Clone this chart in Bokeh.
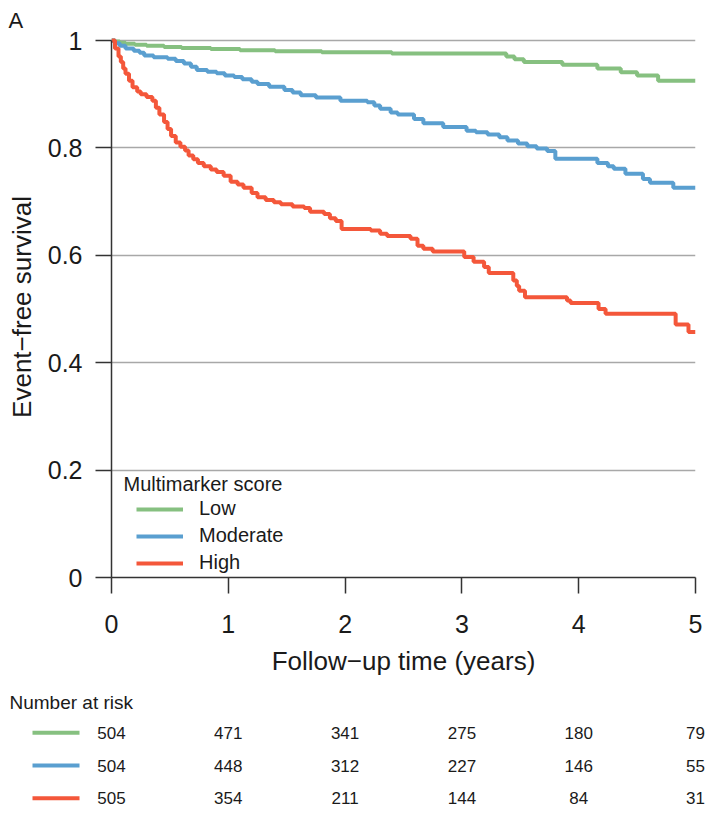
from bokeh.plotting import figure
from bokeh.layouts import column
from bokeh.models import (Range1d, FixedTicker, Legend, LegendItem, Label,
                          ColumnDataSource)
from bokeh.embed import file_html
from bokeh.resources import INLINE
from bokeh.core.properties import value

FONT = "Liberation Sans"
TXT = "#1a1a1a"

# ---------------- data ----------------
groups = ["Low", "Moderate", "High"]
colors = ["#86c080", "#5a9fd0", "#f4573a"]

low_t = [0, 0.03, 0.07, 0.12, 0.2, 0.3, 0.45, 0.6, 0.85, 1.1, 1.4, 1.8, 2.4,
         3.38, 3.45, 3.53, 3.86, 4.16, 4.36, 4.5, 4.68, 5.0]
low_s = [1, 0.998, 0.996, 0.994, 0.992, 0.99, 0.988, 0.986, 0.984, 0.982, 0.98,
         0.978, 0.976, 0.970, 0.965, 0.960, 0.955, 0.948, 0.941, 0.935, 0.925, 0.925]

mod_t = [0, 0.03, 0.07, 0.12, 0.19, 0.24, 0.28, 0.36, 0.48, 0.55, 0.62, 0.68, 0.73,
         0.82, 0.90, 0.97, 1.05, 1.12, 1.20, 1.25, 1.35, 1.48, 1.55, 1.62, 1.75,
         1.96, 2.19, 2.25, 2.30, 2.39, 2.45, 2.59, 2.67, 2.84, 3.04, 3.12, 3.22,
         3.32, 3.39, 3.48, 3.56, 3.64, 3.73, 3.80, 4.16, 4.25, 4.30, 4.40, 4.55,
         4.61, 4.81, 5.0]
mod_s = [1, 0.995, 0.99, 0.985, 0.981, 0.977, 0.972, 0.969, 0.966, 0.962, 0.957,
         0.951, 0.945, 0.942, 0.939, 0.935, 0.932, 0.928, 0.923, 0.919, 0.914,
         0.908, 0.903, 0.898, 0.894, 0.888, 0.885, 0.879, 0.873, 0.866, 0.862,
         0.854, 0.846, 0.839, 0.832, 0.829, 0.825, 0.820, 0.814, 0.808, 0.803,
         0.799, 0.794, 0.780, 0.772, 0.766, 0.761, 0.752, 0.742, 0.735, 0.726, 0.726]

high_t = [0, 0.03, 0.06, 0.08, 0.10, 0.12, 0.15, 0.18, 0.22, 0.25, 0.30, 0.35,
          0.38, 0.41, 0.45, 0.48, 0.51, 0.55, 0.59, 0.63, 0.66, 0.70, 0.74, 0.79,
          0.85, 0.90, 0.96, 1.02, 1.08, 1.13, 1.20, 1.25, 1.32, 1.39, 1.45, 1.55,
          1.65, 1.70, 1.82, 1.87, 1.92, 1.97, 2.22, 2.30, 2.36, 2.56, 2.62, 2.67,
          2.75, 3.02, 3.10, 3.19, 3.23, 3.44, 3.47, 3.49, 3.54, 3.90, 3.93, 4.17,
          4.23, 4.83, 4.94, 5.0]
high_s = [1, 0.985, 0.97, 0.96, 0.948, 0.938, 0.925, 0.913, 0.905, 0.9, 0.895,
          0.888, 0.875, 0.862, 0.848, 0.835, 0.822, 0.81, 0.802, 0.795, 0.786,
          0.779, 0.772, 0.766, 0.76, 0.755, 0.748, 0.737, 0.732, 0.726, 0.716,
          0.708, 0.703, 0.699, 0.695, 0.691, 0.688, 0.681, 0.677, 0.669, 0.664,
          0.649, 0.646, 0.640, 0.636, 0.631, 0.618, 0.612, 0.607, 0.597, 0.588,
          0.578, 0.567, 0.553, 0.543, 0.534, 0.522, 0.516, 0.511, 0.500, 0.491,
          0.471, 0.457, 0.457]

risk_times = [0, 1, 2, 3, 4, 5]
risk_low = [504, 471, 341, 275, 180, 79]
risk_mod = [504, 448, 312, 227, 146, 55]
risk_high = [505, 354, 211, 144, 84, 31]

y_ticks = [0, 0.2, 0.4, 0.6, 0.8, 1]
y_tick_labels = ["0", "0.2", "0.4", "0.6", "0.8", "1"]
x_ticks = [0, 1, 2, 3, 4, 5]

# ---------------- layout constants (page px) ----------------
PX_YEAR = 116.8        # px per year
PX_UNIT = 537.0        # px per survival unit
FRAME_W = 584
FRAME_H = 541
LEFT = 111
RIGHT = 10
TOP = 36
BOTTOM = 103
ORIGIN_X = 111         # page x of t = 0

p = figure(frame_width=FRAME_W, frame_height=FRAME_H,
           min_border_left=LEFT, min_border_right=RIGHT,
           min_border_top=TOP, min_border_bottom=BOTTOM,
           x_range=Range1d(0, 5), y_range=Range1d(0, FRAME_H / PX_UNIT),
           output_backend="svg", toolbar_location=None,
           background_fill_color="white", border_fill_color="white")
p.frame_align = False
p.outline_line_color = None
p.xgrid.visible = False
p.ygrid.grid_line_color = "#a8a8a8"
p.ygrid.grid_line_width = 1.5

p.title.text = "A"
p.title.align = "left"
p.title.offset = -(ORIGIN_X - 8)
p.title.text_font = FONT
p.title.text_font_size = "22px"
p.title.text_font_style = "normal"
p.title.text_color = TXT
p.title.standoff = 8

for ax in (p.xaxis, p.yaxis):
    ax.axis_line_color = "#333333"
    ax.axis_line_width = 1.5
    ax.major_tick_line_color = "#333333"
    ax.major_tick_line_width = 1.5
    ax.major_tick_out = 16
    ax.major_tick_in = 0
    ax.minor_tick_out = 0
    ax.minor_tick_in = 0
    ax.major_label_text_font = FONT
    ax.major_label_text_font_size = "25px"
    ax.major_label_text_color = TXT
    ax.axis_label_text_font = FONT
    ax.axis_label_text_font_size = "26px"
    ax.axis_label_text_font_style = "normal"
    ax.axis_label_text_color = TXT

p.yaxis.ticker = FixedTicker(ticks=y_ticks)
p.yaxis.major_label_overrides = {t: l for t, l in zip(y_ticks, y_tick_labels)}
p.yaxis.bounds = (0, 1)
p.yaxis.major_label_standoff = 13
p.yaxis.axis_label = "Event\u2212free survival"
p.yaxis.axis_label_standoff = 8

p.xaxis.ticker = FixedTicker(ticks=x_ticks)
p.xaxis.major_label_standoff = 21
p.xaxis.axis_label = "Follow\u2212up time (years)"
p.xaxis.axis_label_standoff = 10

series = [(low_t, low_s), (mod_t, mod_s), (high_t, high_s)]
renderers = []
for (t, s), c in zip(series, colors):
    r = p.step(x=t, y=s, mode="after", line_color=c, line_width=4)
    renderers.append(r)

legend = Legend(items=[LegendItem(label=g, renderers=[r]) for g, r in zip(groups, renderers)],
                location=(25, 3), orientation="vertical",
                glyph_width=47, glyph_height=22, label_height=22,
                label_standoff=16, spacing=4, padding=0, margin=0,
                border_line_color=None, background_fill_alpha=0,
                label_text_font=FONT, label_text_font_size="20px",
                label_text_color=TXT)
p.add_layout(legend)

p.add_layout(Label(x=(123 - ORIGIN_X) / PX_YEAR, y=(577 - 483) / PX_UNIT,
                   text="Multimarker score", text_font=FONT,
                   text_font_size="20px", text_color=TXT,
                   text_baseline="middle", text_align="left"))

# ---------------- number at risk table (full-width figure) ----------------
TAB_W = 710
TAB_H = 130
ROW0 = 52.3            # px from table top to first row
ROW_STEP = 32.7
x0 = (0 - ORIGIN_X) / PX_YEAR
x1 = x0 + TAB_W / PX_YEAR
q = figure(frame_width=TAB_W, frame_height=TAB_H,
           min_border=0, min_border_left=0, min_border_right=0,
           min_border_top=0, min_border_bottom=0,
           x_range=Range1d(x0, x1),
           y_range=Range1d((TAB_H - ROW0) / ROW_STEP, -ROW0 / ROW_STEP),
           x_axis_location=None, y_axis_location=None,
           output_backend="svg", toolbar_location=None,
           background_fill_color="white", border_fill_color="white")
q.frame_align = False
q.outline_line_color = None
q.grid.visible = False

tx, ty, tt = [], [], []
for row, vals in enumerate([risk_low, risk_mod, risk_high]):
    for t, v in zip(risk_times, vals):
        tx.append(t)
        ty.append(row)
        tt.append(str(v))
q.text(x="x", y="y", text="t", source=ColumnDataSource(dict(x=tx, y=ty, t=tt)),
       text_font=value(FONT), text_font_size="17px", text_color=TXT,
       text_align="center", text_baseline="middle")

rows = [0, 1, 2]
sw0 = (32 - ORIGIN_X) / PX_YEAR
sw1 = (79 - ORIGIN_X) / PX_YEAR
q.segment(x0=[sw0] * 3, x1=[sw1] * 3, y0=rows, y1=rows, line_color=colors,
          line_width=4)

q.text(x=[(9 - ORIGIN_X) / PX_YEAR], y=[(22 - ROW0) / ROW_STEP],
       text=["Number at risk"],
       text_font=value(FONT), text_font_size="19px", text_color=TXT,
       text_align="left", text_baseline="middle")

layout = column(p, q, spacing=0)
open("out.html", "w").write(file_html(layout, INLINE))
